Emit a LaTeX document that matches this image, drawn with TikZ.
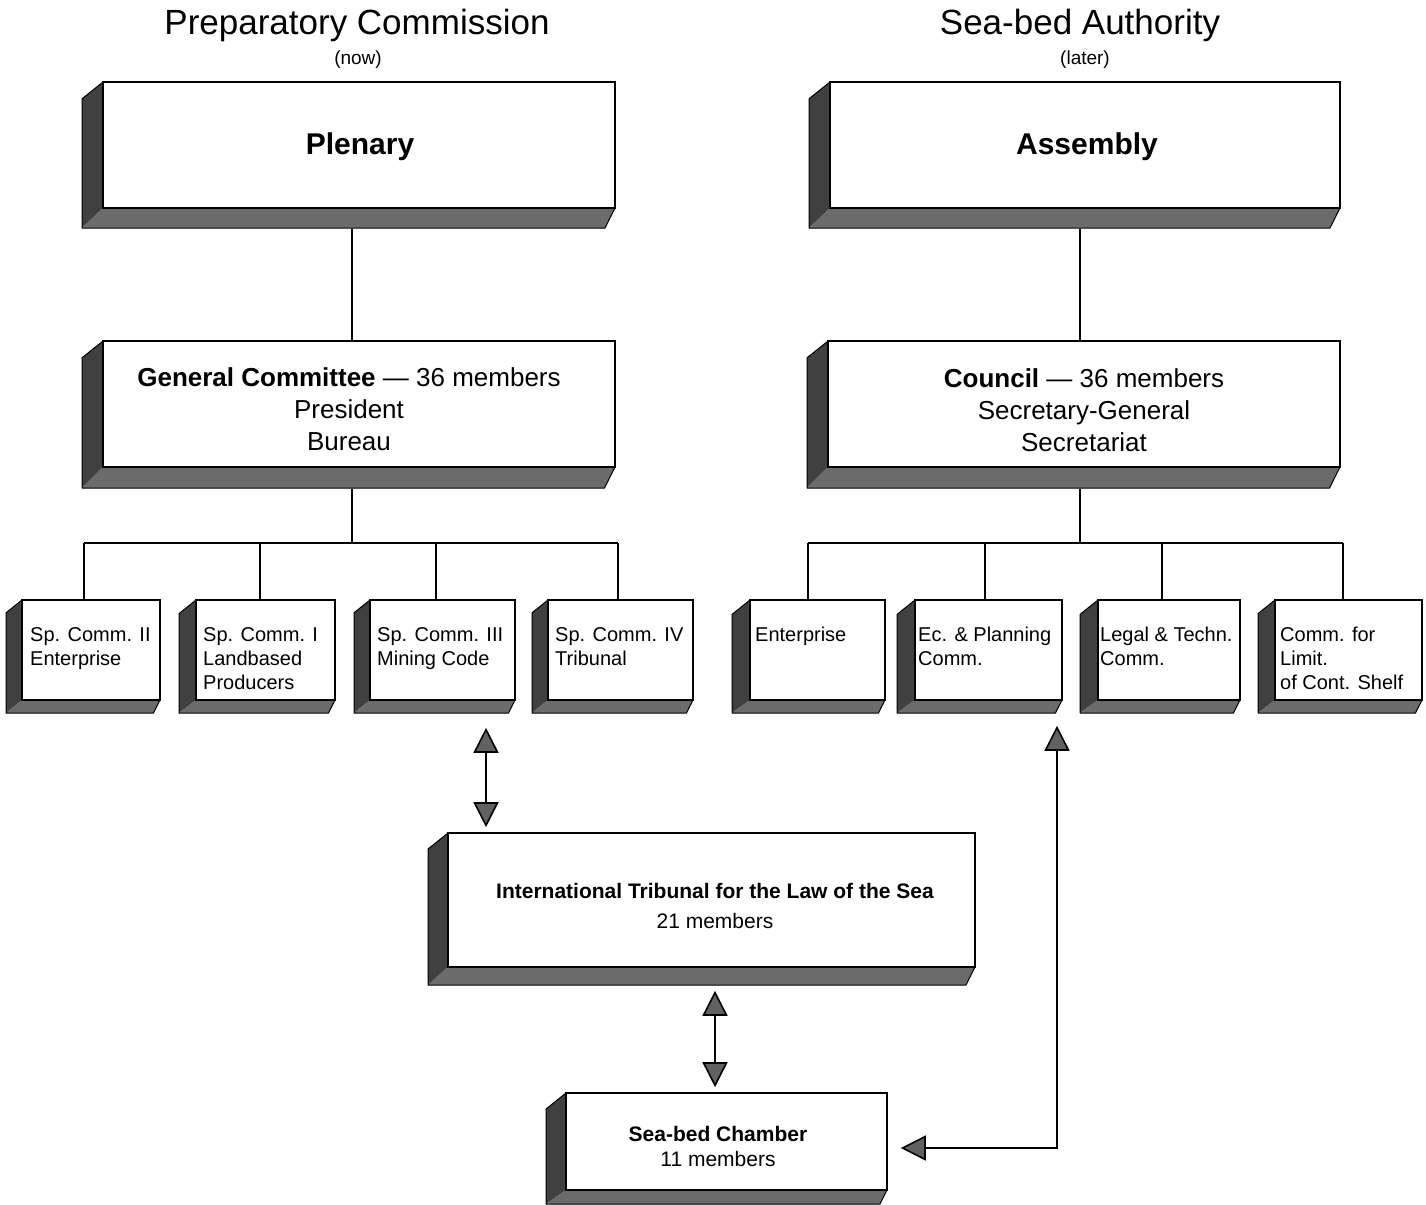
\documentclass[tikz,border=0pt]{standalone}
\usepackage{fontspec}
\setmainfont{Liberation Sans}
\usetikzlibrary{arrows.meta}
\tikzset{
 front/.style={draw=black, fill=white, line width=1.6pt, inner sep=0pt, rectangle},
 sidefill/.style={fill=black!75},
 botfill/.style={fill=black!58},
 edgethree/.style={draw=black, line width=1pt, line join=round},
 conn/.style={draw=black, line width=1.4pt},
 dbl/.style={draw=black, line width=1.6pt, {Triangle[width=25pt,length=25pt,fill=black!62]}-{Triangle[width=25pt,length=25pt,fill=black!62]}},
 bigtitle/.style={font=\fontsize{35}{40}\selectfont},
 subtitle/.style={font=\fontsize{19}{22}\selectfont},
 smalltxt/.style={anchor=north west, align=left, inner sep=0pt, font=\fontsize{20}{24}\selectfont},
 midtxt/.style={align=center, inner sep=0pt, font=\fontsize{26}{32}\selectfont},
}
\newcommand\boxthree[7]{%
 \fill[sidefill] (#2,#3) -- ({#2-#6},{#3+0.8*#6}) -- ({#2-#6},{#5+#7}) -- (#2,#5) -- cycle;
 \fill[botfill] (#2,#5) -- ({#2-#6},{#5+#7}) -- ({#4-0.5*#7},{#5+#7}) -- (#4,#5) -- cycle;
 \draw[edgethree] (#2,#3) -- ({#2-#6},{#3+0.8*#6}) -- ({#2-#6},{#5+#7}) -- ({#4-0.5*#7},{#5+#7}) -- (#4,#5);
 \node[front, minimum width={#4-#2}, minimum height={#5-#3}] (#1) at ({(#2+#4)/2},{(#3+#5)/2}) {};
}
\begin{document}
\begin{tikzpicture}[x=1pt,y=-1pt]
\useasboundingbox (0,0) rectangle (1426,1204);
\fill[white] (0,0) rectangle (1426,1204);

% coordinates for connector routing
\coordinate (L0) at (352,543);
\coordinate (L1) at (84,543);
\coordinate (L2) at (260,543);
\coordinate (L3) at (436,543);
\coordinate (L4) at (618,543);
\coordinate (R0) at (1080,543);
\coordinate (R1) at (808,543);
\coordinate (R2) at (985,543);
\coordinate (R3) at (1162,543);
\coordinate (R4) at (1343,543);
\coordinate (A1) at (486,0);
\coordinate (A2) at (715,0);
\coordinate (A3) at (1057,1148);

% titles
\node[bigtitle] (ttl) at (357,25) {Preparatory Commission};
\node[subtitle] (ttlnow) at (358,60) {(now)};
\node[bigtitle] (ttr) at (1080,25) {Sea-bed Authority};
\node[subtitle] (ttrlater) at (1085,60) {(later)};

% boxes
\boxthree{plenary}{103}{82}{615}{208}{21}{20}
\boxthree{assembly}{830}{82}{1340}{208}{21}{20}
\boxthree{gc}{103}{341}{615}{467}{21}{21}
\boxthree{council}{828}{341}{1340}{467}{21}{21}

% connectors (upper levels)
\draw[conn] ([yshift=-20pt]plenary.south -| L0) -- (gc.north -| L0);
\draw[conn] ([yshift=-20pt]assembly.south -| R0) -- (council.north -| R0);
\draw[conn] ([yshift=-21pt]gc.south -| L0) -- (L0);
\draw[conn] ([yshift=-21pt]council.south -| R0) -- (R0);
\draw[conn] (L1) -- (L4);
\draw[conn] (R1) -- (R4);

\boxthree{spc2}{22}{600}{160}{700}{16}{13}
\boxthree{spc1}{196}{600}{335}{700}{17}{13}
\boxthree{spc3}{370}{600}{515}{700}{16}{13}
\boxthree{spc4}{548}{600}{693}{700}{16}{13}
\boxthree{ent}{750}{600}{885}{700}{18}{13}
\boxthree{ecp}{915}{600}{1062}{700}{18}{13}
\boxthree{legal}{1098}{600}{1240}{700}{18}{13}
\boxthree{limit}{1275}{600}{1422}{700}{17}{13}

\draw[conn] (L1) -- (spc2.north -| L1);
\draw[conn] (L2) -- (spc1.north -| L2);
\draw[conn] (L3) -- (spc3.north -| L3);
\draw[conn] (L4) -- (spc4.north -| L4);
\draw[conn] (R1) -- (ent.north -| R1);
\draw[conn] (R2) -- (ecp.north -| R2);
\draw[conn] (R3) -- (legal.north -| R3);
\draw[conn] (R4) -- (limit.north -| R4);

\boxthree{trib}{448}{833}{975}{967}{20}{18}
\boxthree{chamber}{566}{1093}{887}{1190}{20}{14}

% texts
\node[font=\fontsize{30}{36}\selectfont\bfseries] (tplen) at (360,147) {Plenary};
\node[font=\fontsize{30}{36}\selectfont\bfseries] (tassem) at (1087,147) {Assembly};
\node[midtxt] (tgc) at (349,409) {\textbf{General Committee} — 36 members\\President\\Bureau};
\node[midtxt] (tcouncil) at (1084,410) {\textbf{Council} — 36 members\\Secretary-General\\Secretariat};

\node[smalltxt] (tspc2) at (30,627) {Sp. Comm. II\\Enterprise};
\node[smalltxt] (tspc1) at (203,627) {Sp. Comm. I\\Landbased\\Producers};
\node[smalltxt] (tspc3) at (377,627) {Sp. Comm. III\\Mining Code};
\node[smalltxt] (tspc4) at (555,627) {Sp. Comm. IV\\Tribunal};
\node[smalltxt] (tent) at (755,627) {Enterprise};
\node[smalltxt] (tecp) at (918,627) {Ec. \& Planning\\Comm.};
\node[smalltxt] (tlegal) at (1100,627) {Legal \& Techn.\\Comm.};
\node[smalltxt] (tlimit) at (1280,627) {Comm. for\\Limit.\\of Cont. Shelf};

\node[align=center, inner sep=0pt, font=\fontsize{21}{30}\selectfont] (ttrib) at (715,906) {\textbf{International Tribunal for the Law of the Sea}\\21 members};
\node[align=center, inner sep=0pt, font=\fontsize{21}{25}\selectfont] (tchamber) at (718,1146) {\textbf{Sea-bed Chamber}\\11 members};

% arrows
\draw[dbl, shorten <=27pt, shorten >=5pt] (spc3.south -| A1) -- (trib.north -| A1);
\draw[dbl, shorten <=23pt, shorten >=5pt] (trib.south -| A2) -- (chamber.north -| A2);
\draw[dbl, shorten <=13pt, shorten >=25pt] (chamber.east |- A3) -- (A3) -- (ecp.south -| A3);
\end{tikzpicture}
\end{document}
